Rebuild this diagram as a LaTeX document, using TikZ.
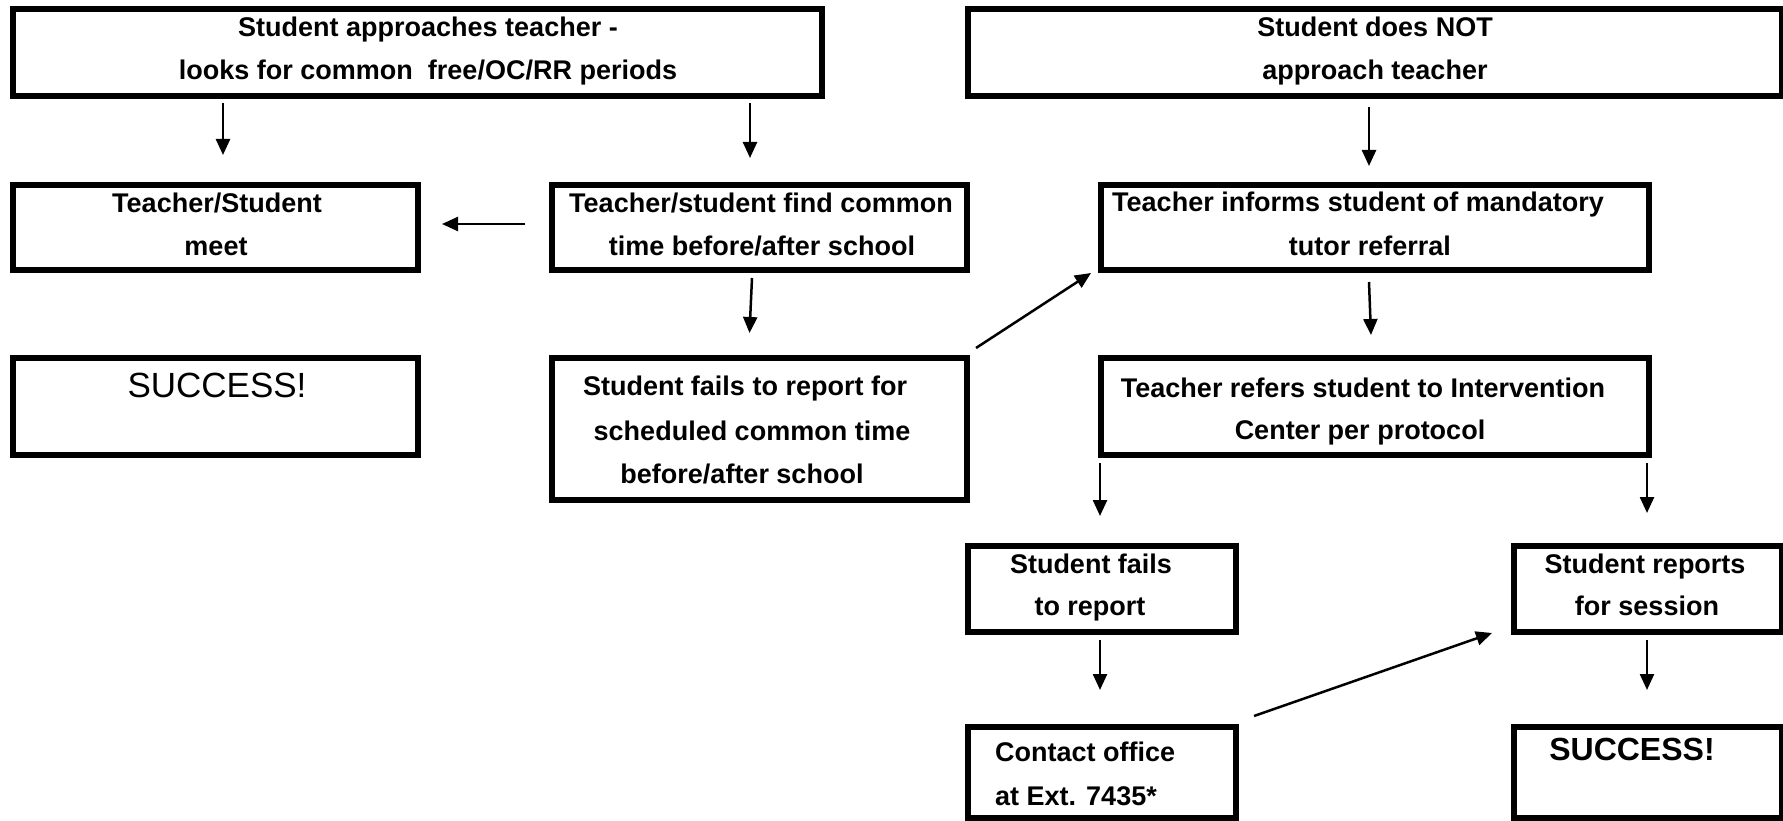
\documentclass[tikz,border=0pt]{standalone}
\usepackage{fontspec}
\setmainfont{Liberation Sans}
\usetikzlibrary{arrows.meta}
\tikzset{
  box/.style={draw, line width=6pt, rectangle, inner sep=0pt, outer sep=0pt},
  arr/.style={line width=2.5pt, -{Triangle[length=16pt,width=14pt]}},
  txt/.style={anchor=base, inner sep=0pt, font=\fontsize{27}{32}\selectfont\bfseries},
  txtl/.style={txt, anchor=base west},
}
\begin{document}
\begin{tikzpicture}[x=1pt,y=-1pt]
\fill[white] (0,0) rectangle (1783,821);
\useasboundingbox (0,0) rectangle (1783,821);
% boxes
\node[box, minimum width=809pt, minimum height=87pt] (A) at (417.5,52.5) {};
\node[box, minimum width=814pt, minimum height=87pt] (B) at (1375,52.5) {};
\node[box, minimum width=405pt, minimum height=85pt] (C) at (215.5,227.5) {};
\node[box, minimum width=415pt, minimum height=85pt] (D) at (759.5,227.5) {};
\node[box, minimum width=548pt, minimum height=85pt] (E) at (1375,227.5) {};
\node[box, minimum width=405pt, minimum height=97pt] (F) at (215.5,406.5) {};
\node[box, minimum width=415pt, minimum height=142pt] (G) at (759.5,429) {};
\node[box, minimum width=548pt, minimum height=97pt] (H) at (1375,406.5) {};
\node[box, minimum width=268pt, minimum height=86pt] (I) at (1102,589) {};
\node[box, minimum width=268pt, minimum height=86pt] (J) at (1648,589) {};
\node[box, minimum width=268pt, minimum height=91pt] (K) at (1102,772.5) {};
\node[box, minimum width=268pt, minimum height=91pt] (L) at (1648,772.5) {};
% texts
\node[txt] (a1) at (428,37) {Student approaches teacher -};
\node[txt] (a2) at (428,80) {looks for common\ \ free/OC/RR periods};
\node[txt] (b1) at (1375,37) {Student does NOT};
\node[txt] (b2) at (1375,80) {approach teacher};
\node[txt] (c1) at (217,213) {Teacher/Student};
\node[txt] (c2) at (216,255) {meet};
\node[txt] (d1) at (761,213) {Teacher/student find common};
\node[txt] (d2) at (762,255) {time before/after school};
\node[txt] (e1) at (1358,212) {Teacher informs student of mandatory};
\node[txt] (e2) at (1370,255) {tutor referral};
\node[txt, font=\fontsize{35}{40}\selectfont] (f1) at (217,397) {SUCCESS!};
\node[txt] (g1) at (745,395) {Student fails to report for};
\node[txt] (g2) at (752,440) {scheduled common time};
\node[txt] (g3) at (742,483) {before/after school};
\node[txt] (h1) at (1363,397) {Teacher refers student to Intervention};
\node[txt] (h2) at (1360,439) {Center per protocol};
\node[txt] (i1) at (1091,573) {Student fails};
\node[txt] (i2) at (1090,615) {to report};
\node[txt] (j1) at (1645,573) {Student reports};
\node[txt] (j2) at (1647,615) {for session};
\node[txtl] (k1) at (995,761) {Contact office};
\node[txtl] (k2) at (995,805) {at Ext. 7435*};
\node[txt, font=\fontsize{32}{36}\selectfont\bfseries] (l1) at (1632,760) {SUCCESS!};
% connectors
\draw[arr] ([shift={(-194.5,7)}]A.south) -- ([shift={(7.5,-30)}]C.north);
\draw[arr] ([shift={(332.5,7)}]A.south) -- ([shift={(-9.5,-27)}]D.north);
\draw[arr] ([shift={(-27,-3.5)}]D.west) -- ([shift={(24,-3.5)}]C.east);
\draw[arr] ([shift={(-7.5,8)}]D.south) -- ([shift={(-10,-25)}]G.north);
\draw[arr] ([shift={(9,-10)}]G.north east) -- ([shift={(-10,3)}]E.south west);
\draw[arr] ([shift={(-6,11)}]B.south) -- ([shift={(-6,-19)}]E.north);
\draw[arr] ([shift={(-6,12)}]E.south) -- ([shift={(-4,-23)}]H.north);
\draw[arr] ([shift={(-1,8)}]H.south west) -- ([shift={(-2,-30)}]I.north);
\draw[arr] ([shift={(-2,8)}]H.south east) -- ([shift={(-1,-33)}]J.north);
\draw[arr] ([shift={(-2,8)}]I.south) -- ([shift={(-2,-37)}]K.north);
\draw[arr] ([shift={(-1,8)}]J.south) -- ([shift={(-1,-37)}]L.north);
\draw[arr] ([shift={(18,-11)}]K.north east) -- ([shift={(-22,1)}]J.south west);
\end{tikzpicture}
\end{document}
